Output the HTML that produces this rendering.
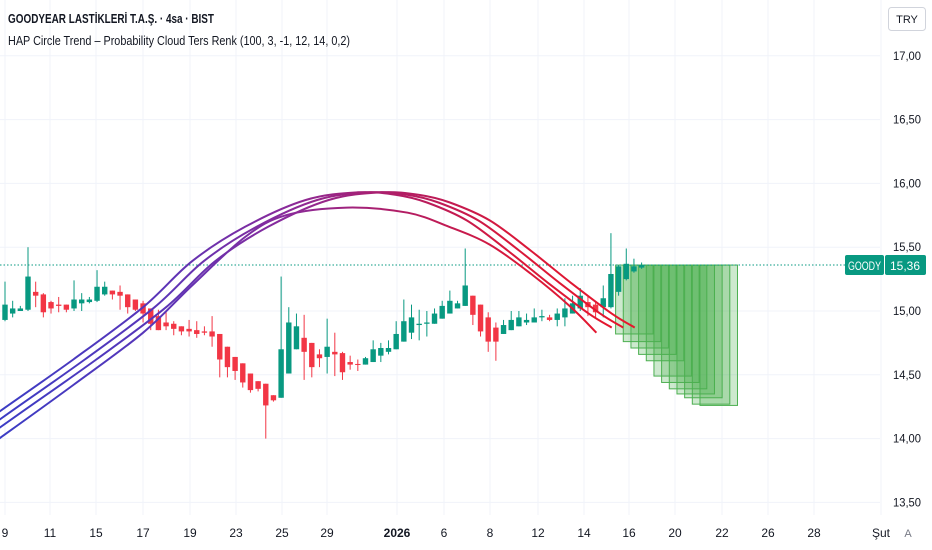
<!DOCTYPE html>
<html><head><meta charset="utf-8"><style>
html,body{margin:0;padding:0;background:#fff;width:932px;height:550px;overflow:hidden}
svg{display:block;font-family:"Liberation Sans",sans-serif}
</style></head><body>
<svg id="chart" width="932" height="550" viewBox="0 0 932 550">
<defs>
<linearGradient id="arcGrad" gradientUnits="userSpaceOnUse" x1="0" y1="0" x2="640" y2="0">
<stop offset="0" stop-color="#3b3cc4"/><stop offset="0.25" stop-color="#5a35b8"/><stop offset="0.45" stop-color="#8a2a9a"/><stop offset="0.62" stop-color="#b01d66"/><stop offset="0.8" stop-color="#d8183a"/><stop offset="1" stop-color="#e8162a"/>
</linearGradient>
<clipPath id="plotClip"><rect x="0" y="0" width="880" height="515"/></clipPath>
</defs>
<g id="grid"></g>
<g id="cloud"></g>
<line x1="0" y1="265" x2="845" y2="265" stroke="#089981" stroke-width="1" stroke-dasharray="1.5,2"/>
<g id="candles"></g>
<g id="arcs" clip-path="url(#plotClip)"></g>
<g id="yaxis"></g>
<g id="xaxis"></g>
<text x="8" y="23" font-size="13" font-weight="bold" fill="#131722" textLength="206" lengthAdjust="spacingAndGlyphs">GOODYEAR LASTİKLERİ T.A.Ş. · 4sa · BIST</text>
<text x="8" y="45" font-size="13" fill="#131722" textLength="342" lengthAdjust="spacingAndGlyphs">HAP Circle Trend – Probability Cloud Ters Renk (100, 3, -1, 12, 14, 0,2)</text>
<g>
<rect x="888.5" y="7.5" width="37" height="23" rx="3" fill="#fff" stroke="#d1d4dc"/>
<text x="907" y="23" font-size="11" fill="#131722" text-anchor="middle">TRY</text>
</g>
<g>
<rect x="845" y="255" width="39" height="20" rx="2" fill="#089981"/>
<text x="864.5" y="270" font-size="12" fill="#fff" text-anchor="middle" textLength="33" lengthAdjust="spacingAndGlyphs">GOODY</text>
<rect x="885" y="255" width="41" height="20" rx="2" fill="#089981"/>
<text x="905" y="270" font-size="12" fill="#fff" text-anchor="middle" textLength="30" lengthAdjust="spacingAndGlyphs">15,36</text>
</g>
</svg>
<script>
const ohlc = [
[14.93,15.23,14.92,15.05],[14.98,15.08,14.95,15.02],[15.00,15.04,15.00,15.02],[15.01,15.50,15.00,15.27],
[15.15,15.23,15.03,15.12],[15.13,15.14,14.95,14.99],[15.07,15.08,14.98,15.02],[15.05,15.11,14.99,15.04],
[15.05,15.05,14.99,15.01],[15.02,15.24,15.00,15.09],[15.06,15.14,15.00,15.09],[15.07,15.11,15.06,15.09],
[15.08,15.32,15.07,15.19],[15.13,15.23,15.12,15.19],[15.16,15.16,15.09,15.13],[15.15,15.20,15.01,15.12],
[15.13,15.13,14.98,15.03],[15.09,15.09,15.00,15.01],[15.06,15.08,14.91,14.98],[15.02,15.02,14.85,14.90],
[14.96,15.01,14.85,14.85],[14.91,15.00,14.85,14.88],[14.90,14.92,14.81,14.86],[14.88,14.88,14.81,14.84],
[14.86,14.93,14.80,14.84],[14.85,14.92,14.79,14.82],[14.84,14.88,14.81,14.83],[14.84,14.96,14.72,14.80],
[14.82,14.82,14.48,14.62],[14.72,14.72,14.48,14.56],[14.64,14.64,14.46,14.53],[14.59,14.59,14.40,14.44],
[14.51,14.51,14.36,14.38],[14.45,14.45,14.37,14.39],[14.43,14.43,14.00,14.26],[14.34,14.34,14.29,14.30],
[14.32,15.27,14.32,14.70],[14.51,15.03,14.51,14.91],[14.70,14.98,14.70,14.88],[14.79,14.97,14.46,14.68],
[14.75,14.75,14.48,14.56],[14.66,14.70,14.56,14.63],[14.64,14.94,14.51,14.72],[14.68,14.83,14.49,14.66],
[14.67,14.68,14.46,14.52],[14.60,14.65,14.54,14.58],[14.585,14.62,14.53,14.58],[14.58,14.64,14.58,14.63],
[14.60,14.77,14.60,14.70],[14.65,14.75,14.60,14.71],[14.68,14.77,14.66,14.71],[14.70,14.92,14.70,14.82],
[14.76,15.09,14.76,14.92],[14.83,15.05,14.78,14.95],[14.89,15.01,14.77,14.90],[14.90,15.00,14.80,14.91],
[14.90,15.02,14.90,14.98],[14.94,15.08,14.94,15.04],[14.98,15.16,14.98,15.08],[15.02,15.08,15.02,15.06],
[15.04,15.49,15.04,15.20],[15.12,15.12,14.89,14.97],[15.05,15.05,14.80,14.84],[14.95,14.99,14.68,14.76],
[14.87,14.91,14.61,14.76],[14.82,14.93,14.82,14.89],[14.85,15.00,14.85,14.93],[14.88,15.00,14.88,14.95],
[14.91,14.98,14.89,14.93],[14.91,15.02,14.91,14.95],[14.95,15.01,14.92,14.96],[14.95,14.97,14.92,14.93],
[14.93,15.02,14.88,14.98],[14.95,15.10,14.88,15.02],[14.98,15.12,14.98,15.06],[15.02,15.18,15.00,15.12],
[15.07,15.12,14.96,15.03],[15.05,15.08,14.95,14.99],[15.03,15.20,14.95,15.10],[15.03,15.61,15.02,15.29],
[15.15,15.36,15.12,15.35],[15.25,15.49,15.24,15.37],[15.31,15.41,15.30,15.35],[15.34,15.38,15.33,15.36]
];
const arcIdx = [-5,-1,8.9,18,24.4,31.3,39.2,46,51,55,60.2,65.6,70.8,76.1,79.1];
const arcTop = [14.03,14.20,14.62,15.03,15.39,15.66,15.87,15.93,15.91,15.85,15.71,15.47,15.22,14.98,14.87];
const arcShifts = [0,1.5,3];
const arcInnerIdx = [-5,-1,8.9,18,24.4,31.3,36.6,44.6,52.5,57.9,63.2,68.6,73.8,77.1];
const arcInner = [13.82,13.99,14.42,14.83,15.20,15.58,15.75,15.81,15.77,15.66,15.52,15.29,15.03,14.83];
const cloudStart = [80,81,82,83,84,85,86,87,88,89,90,91];
const cloudTop = [15.36,15.36,15.36,15.36,15.36,15.36,15.36,15.36,15.36,15.36,15.36,15.36];
const cloudBottom = [14.82,14.76,14.71,14.66,14.61,14.49,14.44,14.39,14.35,14.32,14.27,14.26];
const yTicks = [17.0,16.5,16.0,15.5,15.0,14.5,14.0,13.5];
const xLabels = ["9","11","15","17","19","23","25","29","2026","6","8","12","14","16","20","22","26","28","Şut"];
const xLabelPos = [5,50,96,143,190,236,282,327,397,444,490,538,584,629,675,722,768,814,881];

const NS="http://www.w3.org/2000/svg";
const X = i => 5 + 7.67*i;
const Y = v => 311 - (v-15)*127.6;
function mk(tag, attrs, parent){const e=document.createElementNS(NS,tag);for(const k in attrs)e.setAttribute(k,attrs[k]);parent.appendChild(e);return e;}

const grid=document.getElementById('grid');
yTicks.forEach(v=>{const l=mk('line',{x1:0,x2:880,y1:Y(v),y2:Y(v),stroke:'#f0f3fa','stroke-width':1},grid);

});
xLabelPos.forEach(x=>{const l=mk('line',{x1:x,x2:x,y1:0,y2:515,stroke:'#f0f3fa','stroke-width':1},grid);

});

const cl=document.getElementById('cloud');
cloudStart.forEach((s,k)=>{const x=X(s)-3;const r=mk('rect',{x:x,y:Y(cloudTop[k]),width:X(s+4.5)-x,height:Y(cloudBottom[k])-Y(cloudTop[k]),fill:'rgba(76,175,80,0.28)',stroke:'#4caf50','stroke-width':1},cl);

});

const cg=document.getElementById('candles');
ohlc.forEach((c,i)=>{const [o,h,l,cl2]=c;const up=cl2>=o;const col=up?'#089981':'#f23645';const x=X(i);
const g=mk('g',{},cg);


mk('line',{x1:x,x2:x,y1:Y(h),y2:Y(l),stroke:col,'stroke-width':1},g);
const top=Y(Math.max(o,cl2)),bot=Y(Math.min(o,cl2));
mk('rect',{x:x-2.7,y:top,width:5.4,height:Math.max(1,bot-top),fill:col},g);});

const ag=document.getElementById('arcs');
function smooth(idx,vals,sh){const p=idx.map((i,k)=>[X(i+sh),Y(vals[k])]);let d='M'+p[0][0]+','+p[0][1];
for(let k=0;k<p.length-1;k++){const p0=p[k-1]||p[k],p1=p[k],p2=p[k+1],p3=p[k+2]||p2;
d+=' C'+(p1[0]+(p2[0]-p0[0])/6).toFixed(1)+','+(p1[1]+(p2[1]-p0[1])/6).toFixed(1)+' '+(p2[0]-(p3[0]-p1[0])/6).toFixed(1)+','+(p2[1]-(p3[1]-p1[1])/6).toFixed(1)+' '+p2[0].toFixed(1)+','+p2[1].toFixed(1);}return d;}
arcShifts.forEach(s=>{const p=mk('path',{d:smooth(arcIdx,arcTop,s),fill:'none',stroke:'url(#arcGrad)','stroke-width':2},ag);

});
const pi=mk('path',{d:smooth(arcInnerIdx,arcInner,0),fill:'none',stroke:'url(#arcGrad)','stroke-width':2},ag);



const ya=document.getElementById('yaxis');
yTicks.forEach(v=>{const t=mk('text',{x:921,y:Y(v)+4,'font-size':12,fill:'#131722','text-anchor':'end',textLength:28,lengthAdjust:'spacingAndGlyphs'},ya);
t.textContent=v.toFixed(2).replace('.',',');

});

const xa=document.getElementById('xaxis');
xLabels.forEach((s,k)=>{const t=mk('text',{x:xLabelPos[k],y:537,'font-size':12,fill:'#131722','text-anchor':'middle','font-weight':s==='2026'?'bold':'normal'},xa);
t.textContent=s;

});
const a=mk('text',{x:908,y:537,'font-size':11,fill:'#787b86','text-anchor':'middle'},xa);
a.textContent='A';


</script>
</body></html>
